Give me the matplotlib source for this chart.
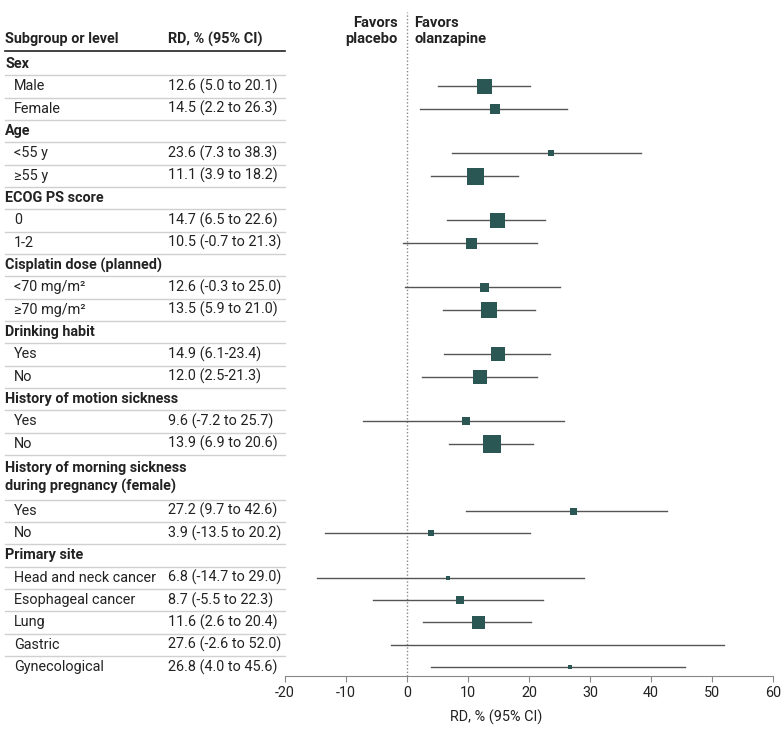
import matplotlib.pyplot as plt
from matplotlib.transforms import blended_transform_factory

plt.rcParams['font.family'] = ['Roboto', 'DejaVu Sans']
plt.rcParams['axes.unicode_minus'] = False

# === данные ===
labels = ["Sex", "Male", "Female", "Age", "<55 y", "≥55 y", "ECOG PS score", "0", "1-2",
          "Cisplatin dose (planned)", "<70 mg/m²", "≥70 mg/m²", "Drinking habit", "Yes", "No",
          "History of motion sickness", "Yes", "No",
          "History of morning sickness\nduring pregnancy (female)", "Yes", "No",
          "Primary site", "Head and neck cancer", "Esophageal cancer", "Lung", "Gastric",
          "Gynecological"]
is_header = [True, False, False, True, False, False, True, False, False,
             True, False, False, True, False, False, True, False, False,
             True, False, False, True, False, False, False, False, False]
rd_text = ["", "12.6 (5.0 to 20.1)", "14.5 (2.2 to 26.3)", "", "23.6 (7.3 to 38.3)",
           "11.1 (3.9 to 18.2)", "", "14.7 (6.5 to 22.6)", "10.5 (-0.7 to 21.3)", "",
           "12.6 (-0.3 to 25.0)", "13.5 (5.9 to 21.0)", "", "14.9 (6.1-23.4)", "12.0 (2.5-21.3)",
           "", "9.6 (-7.2 to 25.7)", "13.9 (6.9 to 20.6)", "", "27.2 (9.7 to 42.6)",
           "3.9 (-13.5 to 20.2)", "", "6.8 (-14.7 to 29.0)", "8.7 (-5.5 to 22.3)",
           "11.6 (2.6 to 20.4)", "27.6 (-2.6 to 52.0)", "26.8 (4.0 to 45.6)"]

rd = [12.6, 14.5, 23.6, 11.1, 14.7, 10.5, 12.6, 13.5, 14.9, 12.0, 9.6, 13.9,
      27.2, 3.9, 6.8, 8.7, 11.6, 27.6, 26.8]
lo = [5.0, 2.2, 7.3, 3.9, 6.5, -0.7, -0.3, 5.9, 6.1, 2.5, -7.2, 6.9,
      9.7, -13.5, -14.7, -5.5, 2.6, -2.6, 4.0]
hi = [20.1, 26.3, 38.3, 18.2, 22.6, 21.3, 25.0, 21.0, 23.4, 21.3, 25.7, 20.6,
      42.6, 20.2, 29.0, 22.3, 20.4, 52.0, 45.6]
# относительный вес (размер квадрата)
weight = [15, 10, 6, 17, 15, 11, 9, 16, 14, 14, 8, 18, 7, 6, 4, 8, 13, 0, 4]

# позиции строк (заголовок про утреннюю тошноту занимает две строки)
rows = []
r = 0
for lab in labels:
    if "\n" in lab:
        rows.append(r + 0.5)
        r += 2
    else:
        rows.append(r)
        r += 1

teal = '#2a5654'
txt = '#222222'
fs = 10.4
fig = plt.figure(figsize=(7.83, 7.43), dpi=100)
W, H = 783, 743
ax = fig.add_axes([285 / W, 1 - 676 / H, 488 / W, (676 - 12) / H])
ax.set_xlim(-20, 60)
ax.set_ylim(27.4, -2.33)

for sp in ['top', 'right', 'left']:
    ax.spines[sp].set_visible(False)
ax.spines['bottom'].set_color('#888888')
ax.set_yticks([])
ax.set_xticks(range(-20, 61, 10))
ax.tick_params(axis='x', colors='#888888', length=4, labelcolor=txt, labelsize=10.4)
ax.set_xlabel("RD, % (95% CI)", fontsize=10.4, color=txt)
ax.xaxis.set_label_coords(0.432, -0.05)

ax.axvline(0, color='#888888', linestyle=(0, (1, 1.5)), linewidth=1)

data_rows = [rows[i] for i in range(len(labels)) if not is_header[i]]
for i, y in enumerate(data_rows):
    ax.plot([lo[i], hi[i]], [y, y], color='#555555', linewidth=1)
    if weight[i] > 0:
        ax.plot(rd[i], y, marker='s', color=teal, markersize=weight[i] * 0.72,
                markeredgewidth=0)

# подписи Favors
ax.text(-1.5, -2.17, "Favors\nplacebo", ha='right', va='top', fontsize=10.6,
        fontweight='bold', linespacing=1.2, color=txt)
ax.text(1.2, -2.17, "Favors\nolanzapine", ha='left', va='top', fontsize=10.6,
        fontweight='bold', linespacing=1.2, color=txt)

# таблица слева
tr = blended_transform_factory(fig.transFigure, ax.transData)
x0 = 5 / W
x1 = 14 / W
xr = 168 / W
xend = 285 / W
ax.text(x0, -1.12, "Subgroup or level", transform=tr, ha='left', va='center',
        fontsize=fs, fontweight='bold', color=txt)
ax.text(xr, -1.12, "RD, % (95% CI)", transform=tr, ha='left', va='center',
        fontsize=fs, fontweight='bold', color=txt)
ax.plot([x0, xend], [-0.6, -0.6], transform=tr, color=txt, linewidth=1.2,
        clip_on=False)

for i, lab in enumerate(labels):
    y = rows[i]
    if is_header[i]:
        ax.text(x0, y, lab, transform=tr, ha='left', va='center', fontsize=fs,
                fontweight='bold', color=txt, linespacing=1.3)
    else:
        ax.text(x1, y, lab, transform=tr, ha='left', va='center', fontsize=fs,
                color=txt)
        ax.text(xr, y, rd_text[i], transform=tr, ha='left', va='center', fontsize=fs,
                color=txt)
    if i > 0:
        top = y - (1.0 if "\n" in lab else 0.5)
        ax.plot([x0, xend], [top, top], transform=tr, color='#d0d0d0', linewidth=1,
                clip_on=False)

plt.savefig("out.png", dpi=100)
